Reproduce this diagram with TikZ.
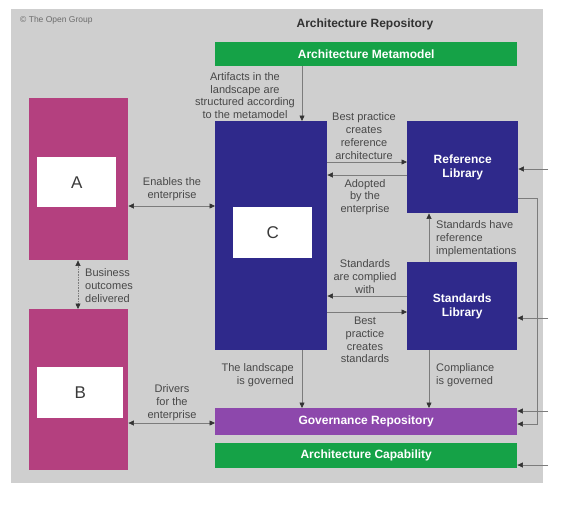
\documentclass[tikz,border=0pt]{standalone}
\usepackage{fontspec}
\setmainfont{Liberation Sans}
\usetikzlibrary{arrows.meta}

\definecolor{repogray}{HTML}{CFCFCF}
\definecolor{bizpink}{HTML}{B4407F}
\definecolor{landblue}{HTML}{2F298B}
\definecolor{metagreen}{HTML}{15A247}
\definecolor{govpurple}{HTML}{8D48AC}
\definecolor{txtgray}{HTML}{484848}
\definecolor{linegray}{HTML}{7C7C7C}

\begin{document}
\begin{tikzpicture}[x=1pt,y=-1pt,
    blk/.style 2 args={minimum width=#1pt, minimum height=#2pt, anchor=north west, inner sep=0pt, draw=none},
    title/.style={text=white, font=\bfseries\fontsize{12}{14}\selectfont, align=center},
    lbl/.style={text=txtgray, font=\fontsize{11}{12.8}\selectfont, align=center, inner sep=0pt},
    letter/.style={text=txtgray!80!black, font=\fontsize{17}{20}\selectfont},
    arr/.style={draw=linegray, line width=0.6pt, -{Triangle[length=5.5pt,width=5pt,color=black!80]}},
    biarr/.style={arr, {Triangle[length=5.5pt,width=5pt,color=black!80]}-{Triangle[length=5.5pt,width=5pt,color=black!80]}}]

  \useasboundingbox (0,0) rectangle (564,504);

  % Repository background
  \fill[repogray] (11,9) rectangle (543,483);
  \node[text=txtgray!80, font=\fontsize{8.5}{10}\selectfont, anchor=west, inner sep=0pt] (copy) at (20,20) {\textcopyright{} The Open Group};
  \node[text=txtgray!70!black, font=\bfseries\fontsize{12}{14}\selectfont] (repo) at (365,24) {Architecture Repository};

  % Boxes
  \node[blk={302}{24}, fill=metagreen, title] (meta) at (215,42) {};
  \node[title] at (meta) {Architecture Metamodel};
  \node[blk={99}{162}, fill=bizpink] (A) at (29,98) {};
  \node[blk={99}{161}, fill=bizpink] (B) at (29,309) {};
  \node[blk={112}{229}, fill=landblue] (C) at (215,121) {};
  \node[blk={111}{92}, fill=landblue] (reflib) at (407,121) {};
  \node[title] at (reflib) {Reference\\Library};
  \node[blk={110}{88}, fill=landblue] (stdlib) at (407,262) {};
  \node[title] at (stdlib) {Standards\\Library};
  \node[blk={302}{27}, fill=govpurple] (gov) at (215,408) {};
  \node[title] at (gov) {Governance Repository};
  \node[blk={302}{25}, fill=metagreen] (cap) at (215,443) {};
  \node[title] at (cap) {Architecture Capability};

  % White boxes with letters
  \node[blk={79}{50}, fill=white] (Aw) at (37,157) {};
  \node[letter] at (Aw) {A};
  \node[blk={86}{51}, fill=white] (Bw) at (37,367) {};
  \node[letter] at (Bw) {B};
  \node[blk={79}{51}, fill=white] (Cw) at (233,207) {};
  \node[letter] at (Cw) {C};

  % Connectors
  \draw[arr] (meta.south -| 302,0) -- (C.north -| 302,0);
  \draw[biarr] (A.east |- 0,206) -- (C.west |- 0,206);
  \draw[biarr, densely dotted] (A.south -| 78,0) -- (B.north -| 78,0);
  \draw[biarr] (B.east |- 0,423) -- (gov.west |- 0,423);
  \draw[arr] (C.east |- 0,162) -- (reflib.west |- 0,162);
  \draw[arr] (reflib.west |- 0,175) -- (C.east |- 0,175);
  \draw[arr] (stdlib.north -| 429,0) -- (reflib.south -| 429,0);
  \draw[arr] (stdlib.west |- 0,296) -- (C.east |- 0,296);
  \draw[arr] (C.east |- 0,312) -- (stdlib.west |- 0,312);
  \draw[arr] (C.south -| 302,0) -- (gov.north -| 302,0);
  \draw[arr] (stdlib.south -| 429,0) -- (gov.north -| 429,0);

  % Incoming from the right
  \coordinate (in1) at (548,169);
  \coordinate (in2) at (548,318);
  \coordinate (in3) at (548,411);
  \coordinate (in4) at (548,465);
  \draw[arr] (in1) -- (reflib.east |- in1);
  \draw[arr] (in2) -- (stdlib.east |- in2);
  \draw[arr] (in3) -- (gov.east |- in3);
  \draw[arr] (in4) -- (cap.east |- in4);
  \coordinate (bend1) at (537,198);
  \coordinate (bend2) at (537,424);
  \draw[arr] (reflib.east |- bend1) -- (bend1) -- (bend2) -- (gov.east |- bend2);

  % Labels
  \node[lbl] (l1) at (245,95.5) {Artifacts in the\\landscape are\\structured according\\to the metamodel};
  \node[lbl] (l2) at (172,189.5) {Enables the\\enterprise};
  \node[lbl, align=left, anchor=west] (l3) at (85,285.5) {Business\\outcomes\\delivered};
  \node[lbl] (l4) at (172,402.5) {Drivers\\for the\\enterprise};
  \node[lbl] (l5) at (364,136) {Best practice\\creates\\reference\\architecture};
  \node[lbl] (l6) at (365,197) {Adopted\\by the\\enterprise};
  \node[lbl, align=left, anchor=west] (l7) at (436,238.5) {Standards have\\reference\\implementations};
  \node[lbl] (l8) at (365,276.5) {Standards\\are complied\\with};
  \node[lbl] (l9) at (365,340) {Best\\practice\\creates\\standards};
  \node[lbl, align=right, anchor=east] (l10) at (294,375.5) {The landscape\\is governed};
  \node[lbl, align=left, anchor=west] (l11) at (436,375.5) {Compliance\\is governed};
\end{tikzpicture}
\end{document}
